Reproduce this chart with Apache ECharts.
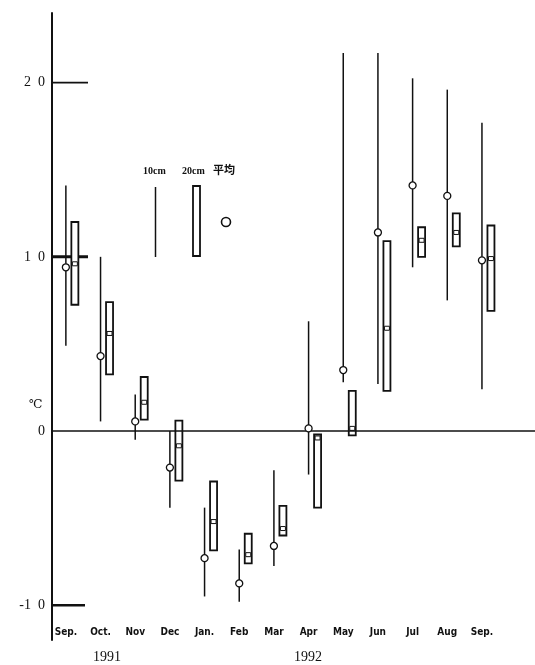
<!DOCTYPE html>
<html>
<head>
<meta charset="utf-8">
<script src="https://cdn.jsdelivr.net/npm/echarts@6/dist/echarts.min.js"></script>
<style>
  html, body { margin: 0; padding: 0; background: #fff; }
  #chart { width: 535px; height: 665px; }
</style>
</head>
<body>
<div id="chart"></div>
<script>
// Monthly soil temperature, Sep 1991 - Sep 1992 (°C)
const months = ['Sep.', 'Oct.', 'Nov', 'Dec', 'Jan.', 'Feb', 'Mar', 'Apr', 'May', 'Jun', 'Jul', 'Aug', 'Sep.'];
const years = ['1991', '1992'];
const yTicks = [-10, 0, 10, 20];

// 10 cm depth: monthly range and mean
const max10  = [14.1, 10.0, 2.1, 0.0, -4.4, -6.8, -2.25, 6.3, 21.7, 21.7, 20.25, 19.6, 17.7];
const min10  = [4.9, 0.55, -0.5, -4.4, -9.5, -9.8, -7.75, -2.5, 2.8, 2.7, 9.4, 7.5, 2.4];
const mean10 = [9.4, 4.3, 0.55, -2.1, -7.3, -8.75, -6.6, 0.15, 3.5, 11.4, 14.1, 13.5, 9.8];

// 20 cm depth: monthly range and mean
const max20  = [12.0, 7.4, 3.1, 0.6, -2.9, -5.9, -4.3, -0.2, 2.3, 10.9, 11.7, 12.5, 11.8];
const min20  = [7.25, 3.25, 0.65, -2.85, -6.85, -7.6, -6.0, -4.4, -0.25, 2.3, 10.0, 10.6, 6.9];
const mean20 = [9.6, 5.6, 1.65, -0.85, -5.2, -7.1, -5.6, -0.4, 0.15, 5.9, 10.95, 11.4, 9.9];

const INK = '#111';
const SERIF = '"Liberation Serif", "DejaVu Serif", serif';
const NARROW = '"Liberation Sans Narrow", "DejaVu Sans Condensed", "Liberation Sans", sans-serif';

const range10 = months.map((m, i) => [i, min10[i], max10[i]]);
const range20 = months.map((m, i) => [i, min20[i], max20[i], mean20[i]]);
const means10 = months.map((m, i) => [i, mean10[i]]);

const X_MIN = -0.4;

const chart = echarts.init(document.getElementById('chart'), null, { renderer: 'canvas' });

chart.setOption({
  animation: false,
  backgroundColor: '#fff',
  grid: { left: 52, right: 0, top: 13, bottom: 25, containLabel: false },
  xAxis: {
    type: 'value',
    min: X_MIN,
    max: 13.53,
    axisLine: { show: false, onZero: false },
    axisTick: { show: false },
    splitLine: { show: false },
    axisLabel: {
      customValues: months.map((m, i) => i),
      formatter: v => months[Math.round(v)] || '',
      inside: true,
      margin: 3,
      color: INK,
      fontSize: 10,
      fontWeight: 'bold',
      fontFamily: NARROW
    }
  },
  yAxis: {
    type: 'value',
    min: -12,
    max: 24,
    axisLine: { show: true, onZero: false, lineStyle: { color: INK, width: 2 } },
    axisTick: { show: false },
    splitLine: { show: false },
    axisLabel: {
      customValues: yTicks,
      // widely spaced digits: "2  0", "-1  0"
      formatter: v => String(v).replace(/(\d)(?=\d)/g, '$1  '),
      margin: 7,
      color: INK,
      fontSize: 14,
      fontFamily: SERIF
    }
  },
  series: [
    {
      // zero line and the long tick marks on the temperature axis
      type: 'custom',
      data: yTicks.filter(v => v !== 0).map(v => [v]),
      renderItem: (params, api) => {
        const v = api.value(0);
        const p = api.coord([X_MIN, v]);
        const len = v === -10 ? 33 : 36;
        const w = v === 10 ? 3 : (v === -10 ? 2.5 : 1.6);
        return {
          type: 'line',
          shape: { x1: p[0], y1: p[1], x2: p[0] + len, y2: p[1] },
          style: { stroke: INK, lineWidth: w }
        };
      },
      markLine: {
        silent: true,
        symbol: 'none',
        label: { show: false },
        lineStyle: { color: INK, width: 1.6, type: 'solid' },
        data: [{ yAxis: 0 }]
      },
      z: 2
    },
    {
      // 10 cm: vertical range lines
      type: 'custom',
      data: range10,
      renderItem: (params, api) => {
        const lo = api.coord([api.value(0), api.value(1)]);
        const hi = api.coord([api.value(0), api.value(2)]);
        return {
          type: 'line',
          shape: { x1: lo[0], y1: lo[1], x2: hi[0], y2: hi[1] },
          style: { stroke: INK, lineWidth: 1.5 }
        };
      },
      z: 3
    },
    {
      // 20 cm: open boxes with a small mean marker inside
      type: 'custom',
      data: range20,
      renderItem: (params, api) => {
        const x = api.value(0);
        const lo = api.coord([x, api.value(1)]);
        const hi = api.coord([x, api.value(2)]);
        const mid = api.coord([x, api.value(3)]);
        const cx = lo[0] + 9;
        const w = 7;
        return {
          type: 'group',
          children: [
            {
              type: 'rect',
              shape: { x: cx - w / 2, y: hi[1], width: w, height: lo[1] - hi[1] },
              style: { fill: '#fff', stroke: INK, lineWidth: 1.8 }
            },
            {
              type: 'rect',
              shape: { x: cx - w / 2 + 1, y: mid[1] - 2, width: w - 2, height: 4 },
              style: { fill: '#fff', stroke: INK, lineWidth: 1 }
            }
          ]
        };
      },
      z: 4
    },
    {
      // 10 cm monthly mean
      type: 'scatter',
      data: means10,
      symbol: 'circle',
      symbolSize: 7,
      itemStyle: { color: '#fff', borderColor: INK, borderWidth: 1.3, opacity: 1 },
      z: 5
    }
  ],
  graphic: [
    // legend
    { type: 'text', left: 143, top: 166, style: { text: '10cm', fill: INK, font: 'bold 10px ' + SERIF } },
    { type: 'text', left: 182, top: 166, style: { text: '20cm', fill: INK, font: 'bold 10px ' + SERIF } },
    { type: 'text', left: 213, top: 164, style: { text: '平均', fill: INK, font: 'bold 11px "Noto Sans CJK JP", sans-serif' } },
    { type: 'line', shape: { x1: 155.5, y1: 187, x2: 155.5, y2: 257 }, style: { stroke: INK, lineWidth: 1.5 } },
    { type: 'rect', shape: { x: 193, y: 186, width: 7, height: 70 }, style: { fill: '#fff', stroke: INK, lineWidth: 1.8 } },
    { type: 'circle', shape: { cx: 226, cy: 222, r: 4.5 }, style: { fill: '#fff', stroke: INK, lineWidth: 1.6 } },
    // unit
    { type: 'text', left: 29, top: 399, style: { text: '℃', fill: INK, font: '12px ' + SERIF } },
    // years
    { type: 'text', left: 93, top: 650, style: { text: years[0], fill: INK, font: '14px ' + SERIF } },
    { type: 'text', left: 294, top: 650, style: { text: years[1], fill: INK, font: '14px ' + SERIF } }
  ]
});
</script>
</body>
</html>
